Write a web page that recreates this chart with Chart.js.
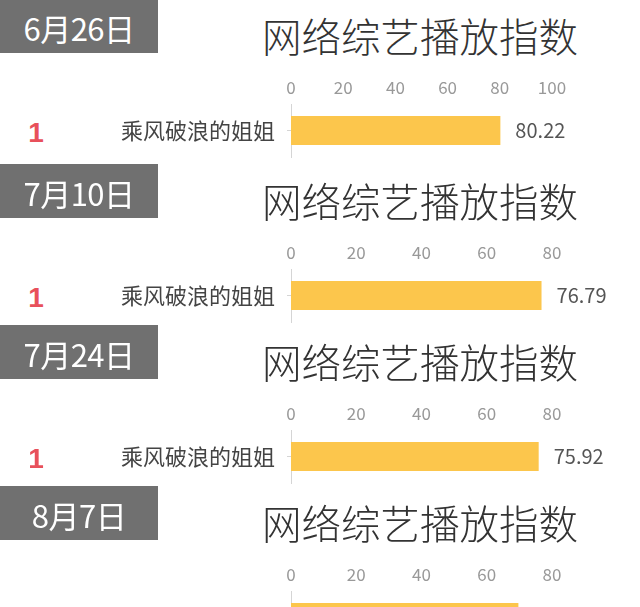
<!DOCTYPE html>
<html>
<head>
<meta charset="utf-8">
<script src="https://cdn.jsdelivr.net/npm/chart.js@4.4.0/dist/chart.umd.min.js"></script>
<style>
  html, body { margin: 0; padding: 0; background: #fff; }
  #wrap { position: relative; width: 640px; height: 607px; overflow: hidden;
          font-family: "Noto Sans CJK SC", "Noto Sans", sans-serif; }
  .panel { position: absolute; left: 0; width: 640px; height: 170px; }
  .date { position: absolute; left: 0; top: -1px; width: 158px; height: 54px;
          background: #707070; color: #fff; font-size: 31px; line-height: 58px;
          text-align: center; letter-spacing: -0.5px; }
  .title { position: absolute; left: 220px; width: 400px; top: 11px;
           text-align: center; font-size: 39.5px; font-weight: 300; color: #333;
           line-height: 48px; }
  .rank { position: absolute; left: 24px; top: 117px; width: 24px; text-align: center;
          font-family: "Liberation Sans", Arial, sans-serif; font-weight: bold;
          font-size: 28px; color: #e8505b; }
  .panel canvas { position: absolute; left: 0; top: 60px; }
</style>
</head>
<body>
<div id="wrap"></div>
<script>
// 数据
const dates = ["6月26日", "7月10日", "7月24日", "8月7日"];
const shows = ["乘风破浪的姐姐"];
const ranks = [1];
const indexValues = [80.22, 76.79, 75.92, 69.7];
const axisMax = [100, 80, 80, 80];
const titleText = "网络综艺播放指数";

const panelTops = [0, 165, 326, 487];
const barColor = "#fcc64c";
const fontFamily = '"Noto Sans CJK SC", "Noto Sans", sans-serif';

// 柱子右侧的数值
const valueLabels = {
  id: "valueLabels",
  afterDatasetsDraw(chart) {
    const ctx = chart.ctx;
    ctx.save();
    ctx.font = "20px " + fontFamily;
    ctx.fillStyle = "#555";
    ctx.textBaseline = "middle";
    ctx.textAlign = "left";
    chart.getDatasetMeta(0).data.forEach((bar, i) => {
      const v = chart.data.datasets[0].data[i];
      ctx.fillText(v.toFixed(2), bar.x + 15, bar.y);
    });
    ctx.restore();
  }
};

const wrap = document.getElementById("wrap");

dates.forEach((date, p) => {
  const panel = document.createElement("div");
  panel.className = "panel";
  panel.style.top = panelTops[p] + "px";
  panel.innerHTML = `
    <div class="date">${date}</div>
    <div class="title">${titleText}</div>
    <div class="rank">${ranks[0]}</div>
    <canvas width="640" height="105"></canvas>
  `;
  wrap.appendChild(panel);

  const canvas = panel.querySelector("canvas");
  canvas.style.width = "640px";
  canvas.style.height = "105px";

  new Chart(canvas, {
    type: "bar",
    data: {
      labels: shows,
      datasets: [{
        data: [indexValues[p]],
        backgroundColor: barColor,
        categoryPercentage: 1,
        barPercentage: 0.55
      }]
    },
    options: {
      indexAxis: "y",
      responsive: false,
      animation: false,
      layout: { padding: { left: 0, right: 88, top: 0, bottom: 8 } },
      plugins: {
        legend: { display: false },
        tooltip: { enabled: false }
      },
      scales: {
        x: {
          position: "top",
          min: 0,
          max: axisMax[p],
          grid: { display: false, drawTicks: false },
          border: { display: false },
          ticks: {
            stepSize: 20,
            padding: 6,
            color: "#999",
            font: { size: 17, family: fontFamily }
          },
          afterFit(scale) { scale.height = 44; }
        },
        y: {
          grid: {
            drawOnChartArea: false,
            drawTicks: true,
            offset: false,
            tickLength: 4,
            color: "#d5d5d5"
          },
          border: { display: true, color: "#d5d5d5" },
          ticks: {
            padding: 12,
            color: "#444",
            font: { size: 22, family: fontFamily }
          },
          afterFit(scale) {
            scale.width = 291;
            scale.paddingTop = 0;
            scale.paddingBottom = 0;
          }
        }
      }
    },
    plugins: [valueLabels]
  });
});
</script>
</body>
</html>
